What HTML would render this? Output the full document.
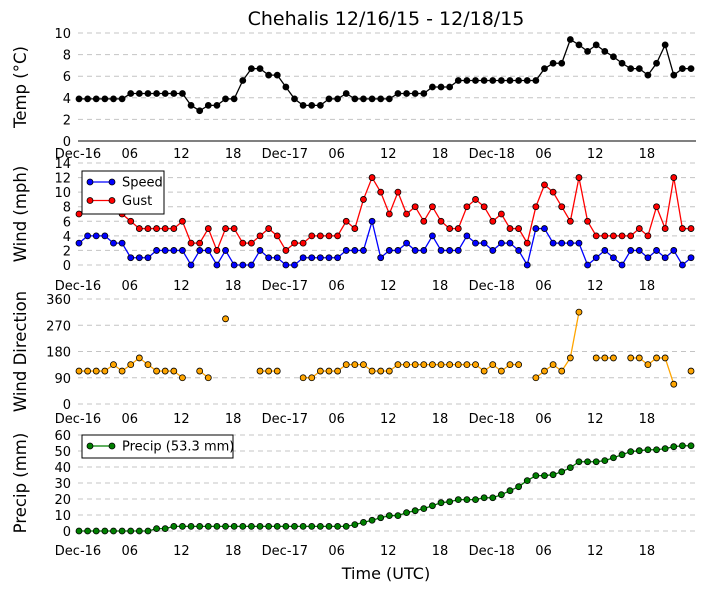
<!DOCTYPE html>
<html><head><meta charset="utf-8"><style>
body{margin:0;background:#fff;width:705px;height:593px;overflow:hidden}
svg text{font-family:"DejaVu Sans","Liberation Sans",sans-serif;fill:#000}
</style></head><body>
<svg id="c" width="705" height="593" xmlns="http://www.w3.org/2000/svg">
<text x="386" y="25" font-size="19" text-anchor="middle">Chehalis 12/16/15 - 12/18/15</text>
<text x="386" y="579" font-size="16" text-anchor="middle">Time (UTC)</text>
</svg>
<script>
const hours = Array.from({length:72},(_,i)=>i);
const xTickHours=[0,6,12,18,24,30,36,42,48,54,60,66];
const xTickLabels=["Dec-16","06","12","18","Dec-17","06","12","18","Dec-18","06","12","18"];
const temp=[3.9,3.9,3.9,3.9,3.9,3.9,4.4,4.4,4.4,4.4,4.4,4.4,4.4,3.3,2.8,3.3,3.3,3.9,3.9,5.6,6.7,6.7,6.1,6.1,5.0,3.9,3.3,3.3,3.3,3.9,3.9,4.4,3.9,3.9,3.9,3.9,3.9,4.4,4.4,4.4,4.4,5.0,5.0,5.0,5.6,5.6,5.6,5.6,5.6,5.6,5.6,5.6,5.6,5.6,6.7,7.2,7.2,9.4,8.9,8.3,8.9,8.3,7.8,7.2,6.7,6.7,6.1,7.2,8.9,6.1,6.7,6.7];
const speed=[3,4,4,4,3,3,1,1,1,2,2,2,2,0,2,2,0,2,0,0,0,2,1,1,0,0,1,1,1,1,1,2,2,2,6,1,2,2,3,2,2,4,2,2,2,4,3,3,2,3,3,2,0,5,5,3,3,3,3,0,1,2,1,0,2,2,1,2,1,2,0,1];
const gust=[7,8,8,8,8,7,6,5,5,5,5,5,6,3,3,5,2,5,5,3,3,4,5,4,2,3,3,4,4,4,4,6,5,9,12,10,7,10,7,8,6,8,6,5,5,8,9,8,6,7,5,5,3,8,11,10,8,6,12,6,4,4,4,4,4,5,4,8,5,12,5,5];
const dir=[113,113,113,113,135,113,135,158,135,113,113,113,90,null,113,90,null,292,null,null,null,113,113,113,null,null,90,90,113,113,113,135,135,135,113,113,113,135,135,135,135,135,135,135,135,135,135,113,135,113,135,135,null,90,113,135,113,158,315,null,158,158,158,null,158,158,135,158,158,68,null,113];
const precip=[0,0,0,0,0,0,0,0,0,1.5,1.5,2.9,2.9,2.9,2.9,2.9,2.9,2.9,2.9,2.9,2.9,2.9,2.9,2.9,2.9,2.9,2.9,2.9,2.9,2.9,2.9,2.9,4,5.4,6.7,8.3,9.6,9.6,11.5,12.7,14,15.8,17.7,18.3,19.6,19.6,19.6,20.8,20.8,22.7,25.2,27.7,31.5,34.6,34.6,35.2,37,39.6,43.3,43.3,43.3,44,45.8,47.7,49.6,50.2,50.8,50.8,51.5,52.7,53.3,53.3];
const tempTicks=[0,2,4,6,8,10];
const windTicks=[0,2,4,6,8,10,12,14];
const dirTicks=[0,90,180,270,360];
const precipTicks=[0,10,20,30,40,50,60];

const svg=document.getElementById('c');
const NS='http://www.w3.org/2000/svg';
const X0=79,X1=696,PX=8.62;
const x=h=>X0+h*PX;
function mk(tag,attrs,parent){const e=document.createElementNS(NS,tag);for(const k in attrs)e.setAttribute(k,attrs[k]);(parent||svg).appendChild(e);return e;}

function panel(name,top,bot,max,ticks,title,solidBottom,labY){
  const g=mk('g',{});
  
  
  const y=v=>bot-(v/max)*(bot-top);
  ticks.forEach(t=>{
    const l=mk('line',{x1:X0-1,x2:X1,y1:y(t),y2:y(t),stroke:'#c4c4c4','stroke-width':1,'stroke-dasharray':'5,4'},g);
    
    
    const tx=mk('text',{x:71,y:y(t)+5,'font-size':13,'text-anchor':'end'},g);
    tx.textContent=t;
    
    
  });
  if(solidBottom){const l=mk('line',{x1:X0-1,x2:X1,y1:bot,y2:bot,stroke:'#000','stroke-width':1},g);
    
    }
  xTickHours.forEach((h,i)=>{
    const tx=mk('text',{x:x(h)-1,y:labY,'font-size':13,'text-anchor':'middle'},g);
    tx.textContent=xTickLabels[i];
    
    
  });
  const cy=(top+bot)/2;
  const tt=mk('text',{x:0,y:0,'font-size':16.5,'text-anchor':'middle',transform:`translate(26,${cy}) rotate(-90)`},g);
  tt.textContent=title;
  
  
  return y;
}
function series(name,vals,y,color,mfill,r){
  const g=mk('g',{});
  
  
  let segs=[],cur=[];
  vals.forEach((v,i)=>{if(v==null){if(cur.length)segs.push(cur);cur=[];}else cur.push([x(hours[i]),y(v)]);});
  if(cur.length)segs.push(cur);
  segs.forEach(s=>{if(s.length>1){const p=mk('polyline',{points:s.map(q=>q.join(',')).join(' '),fill:'none',stroke:color,'stroke-width':1.3},g);
    
    }});
  vals.forEach((v,i)=>{if(v==null)return;
    const c=mk('circle',{cx:x(hours[i]),cy:y(v),r:r,fill:mfill,stroke:'#000','stroke-width':0.8},g);
    
    });
}
const yT=panel('temp',33,141,10,tempTicks,'Temp (\u00B0C)',true,158);
series('temp',temp,yT,'#000','#000',3);
const yW=panel('wind',163,265,14,windTicks,'Wind (mph)',false,290);
series('speed',speed,yW,'#0000ff','#0000ff',3);
series('gust',gust,yW,'#ff0000','#ff0000',3);
const yD=panel('direction',299,404,360,dirTicks,'Wind Direction',false,423);
series('direction',dir,yD,'#ffa500','#ffa500',3);
const yP=panel('precip',435,531,60,precipTicks,'Precip (mm)',false,555);
series('precip',precip,yP,'#007f00','#007f00',3);

function legend(name,bx,by,w,h,items){
  const g=mk('g',{});
  
  
  mk('rect',{x:bx,y:by,width:w,height:h,fill:'#fff',stroke:'#000','stroke-width':1},g);
  items.forEach((it,i)=>{
    const ly=by+11+i*18.5;
    mk('line',{x1:bx+8,x2:bx+30,y1:ly,y2:ly,stroke:it[1],'stroke-width':1.3},g);
    mk('circle',{cx:bx+8,cy:ly,r:3,fill:it[1],stroke:'#000','stroke-width':0.8},g);
    mk('circle',{cx:bx+30,cy:ly,r:3,fill:it[1],stroke:'#000','stroke-width':0.8},g);
    const t=mk('text',{x:bx+40,y:ly+4.5,'font-size':13},g);
    t.textContent=it[0];
    
    
  });
}
legend('wind-legend',82,171,82,43,[['Speed','#0000ff'],['Gust','#ff0000']]);
legend('precip-legend',82,435,151,23,[['Precip (53.3 mm)','#007f00']]);
</script>
</body></html>
